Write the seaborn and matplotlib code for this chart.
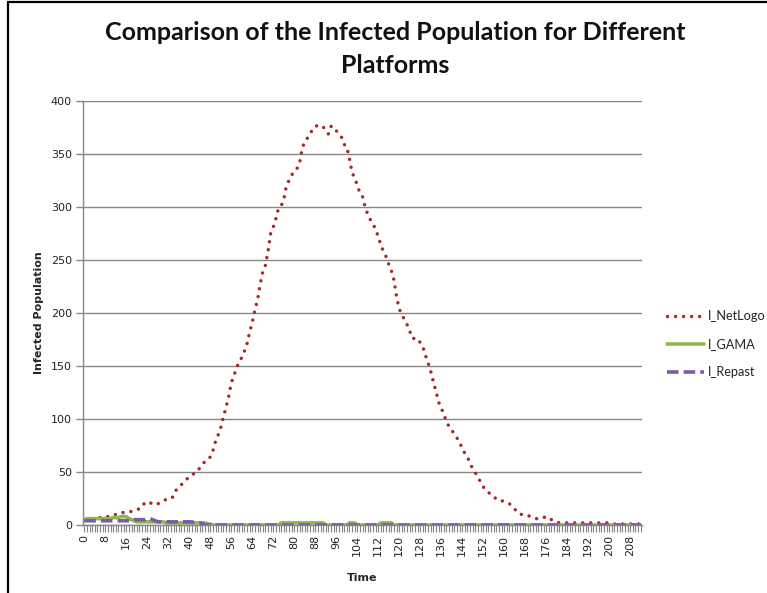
import numpy as np
import pandas as pd
import matplotlib
matplotlib.use("Agg")
import matplotlib.pyplot as plt
import seaborn as sns
from matplotlib.lines import Line2D
from matplotlib.ticker import MultipleLocator

time = list(range(0, 213))

i_netlogo = [
    5, 6, 6, 6, 7, 7, 7, 7, 7, 8,            # 0-9
    9, 9, 10, 11, 11, 12, 12, 12, 13, 14,     # 10-19
    15, 15, 17, 21, 22, 21, 20, 21, 20, 21,   # 20-29
    22, 24, 25, 25, 27, 33, 36, 38, 41, 43,   # 30-39
    46, 47, 49, 50, 54, 57, 60, 63, 64, 70,   # 40-49
    79, 85, 92, 102, 111, 121, 134, 141, 148, 154,   # 50-59
    158, 164, 171, 182, 191, 203, 212, 227, 239, 245,  # 60-69
    258, 275, 281, 289, 299, 301, 307, 320, 325, 330,  # 70-79
    334, 336, 341, 355, 362, 365, 368, 374, 376, 377,  # 80-89
    377, 376, 371, 369, 376, 376, 372, 369, 366, 359,  # 90-99
    357, 346, 333, 327, 321, 313, 310, 300, 293, 288,  # 100-109
    284, 279, 272, 264, 258, 253, 246, 240, 231, 215,  # 110-119
    204, 198, 194, 189, 183, 176, 176, 176, 172, 168,  # 120-129
    160, 153, 145, 135, 126, 116, 110, 105, 97, 93,    # 130-139
    90, 85, 82, 79, 71, 68, 64, 58, 53, 49,            # 140-149
    46, 40, 36, 33, 31, 28, 26, 25, 25, 23,            # 150-159
    22, 21, 20, 18, 15, 12, 10, 10, 9, 9,              # 160-169
    8, 7, 6, 6, 6, 7, 8, 7, 5, 4,                      # 170-179
    3, 2, 2, 2, 2, 2, 2, 2, 2, 2,                      # 180-189
    2, 2, 2, 2, 2, 2, 2, 2, 2, 2,                      # 190-199
    2, 1, 1, 1, 1, 1, 1, 1, 1, 1,                      # 200-209
    1, 1, 1,                                           # 210-212
]

i_gama = [
    5, 6, 6, 6, 6, 6, 6, 6, 6, 6,
    6, 7, 7, 7, 8, 8, 8, 6, 5, 4,
    3, 3, 3, 3, 3, 3, 3, 3, 3, 3,
    3, 2, 2, 2, 2, 2, 2, 2, 2, 2,
    2, 2, 2, 2, 2, 2, 2, 1, 1, 0,
    0, 0, 0, 0, 0, 0, 0, 0, 0, 0,
    0, 0, 0, 0, 0, 0, 0, 0, 0, 0,
    0, 0, 0, 0, 0, 2, 2, 2, 2, 2,
    2, 2, 2, 2, 2, 2, 2, 2, 2, 2,
    2, 2, 0, 0, 0, 0, 0, 0, 0, 0,
    0, 2, 2, 2, 0, 0, 0, 0, 0, 0,
    0, 0, 0, 2, 2, 2, 2, 2, 0, 0,
] + [0] * 93

i_repast = [
    4, 4, 4, 4, 4, 4, 4, 4, 4, 4,
    4, 4, 4, 4, 4, 4, 4, 4, 4, 5,
    5, 5, 5, 5, 6, 6, 5, 4, 3, 3,
    3, 3, 3, 3, 3, 3, 3, 3, 3, 3,
    3, 3, 2, 2, 2, 1,
] + [0] * 167

x_tick_labels = [str(v) for v in range(0, 209, 8)]

series_names = ["I_NetLogo", "I_GAMA", "I_Repast"]
series_colors = ["#A3292B", "#8CB84C", "#7B5BA6"]

df = pd.DataFrame({"Time": time, "I_NetLogo": i_netlogo,
                   "I_GAMA": i_gama, "I_Repast": i_repast})

sns.set_theme(style="white")
plt.rcParams["font.family"] = ["DejaVu Sans"]

fig = plt.figure(figsize=(7.67, 5.93), dpi=100)
ax = fig.add_axes([83 / 767, 1 - 525 / 593, (642 - 83) / 767, (525 - 101) / 593])

styles = {
    "I_NetLogo": dict(linestyle=(0, (0.01, 2.3)), linewidth=2.5, dash_capstyle="round"),
    "I_GAMA": dict(linestyle="-", linewidth=2.6),
    "I_Repast": dict(linestyle=(0, (3.2, 1.4)), linewidth=2.6),
}
handles = []
for name, col in zip(series_names, series_colors):
    sns.lineplot(data=df, x="Time", y=name, ax=ax, color=col, **styles[name])
    handles.append(Line2D([0], [0], color=col, **styles[name]))

ax.set_xlim(-0.5, 212.5)
ax.set_ylim(0, 400)
ax.set_yticks(range(0, 401, 50))
ax.set_xticks(range(0, 209, 8))
ax.set_xticklabels(x_tick_labels, rotation=90)
ax.xaxis.set_minor_locator(MultipleLocator(1))
ax.yaxis.grid(True, color="#868686", linewidth=1.0)
ax.xaxis.grid(False)
for s in ["top", "right"]:
    ax.spines[s].set_visible(False)
for s in ["left", "bottom"]:
    ax.spines[s].set_color("#868686")
    ax.spines[s].set_linewidth(1.0)
ax.tick_params(axis="y", which="major", left=True, length=5, width=1,
               color="#868686", labelsize=8, labelcolor="#222222", pad=3)
ax.tick_params(axis="x", which="both", bottom=True, length=5, width=0.8,
               color="#868686", labelsize=8, labelcolor="#222222", pad=2)
ax.set_xlabel("Time", fontsize=8, fontweight="bold", labelpad=12)
ax.set_ylabel("Infected Population", fontsize=8, fontweight="bold", labelpad=5)

fig.text(395 / 767, 1 - 49 / 593,
         "Comparison of the Infected Population for Different\nPlatforms",
         ha="center", va="center", fontsize=18, fontweight="bold",
         linespacing=1.55, color="#111111", family=["Lato", "DejaVu Sans"])

leg = ax.legend(handles, series_names, loc="center left",
                bbox_to_anchor=(662 / 767, 1 - 344 / 593),
                bbox_transform=fig.transFigure, frameon=False,
                handlelength=2.9, labelspacing=1.25,
                handletextpad=0.3, borderaxespad=0,
                prop={"family": ["Lato", "DejaVu Sans"], "size": 9.2})

# outer frame edges visible in the reference (left and top)
fig.add_artist(Line2D([8 / 767, 8 / 767], [0, 1 - 2 / 593], color="black",
                      linewidth=1.6, transform=fig.transFigure))
fig.add_artist(Line2D([8 / 767, 1], [1 - 2 / 593, 1 - 2 / 593], color="black",
                      linewidth=1.6, transform=fig.transFigure))

fig.savefig("out.png", dpi=100)
